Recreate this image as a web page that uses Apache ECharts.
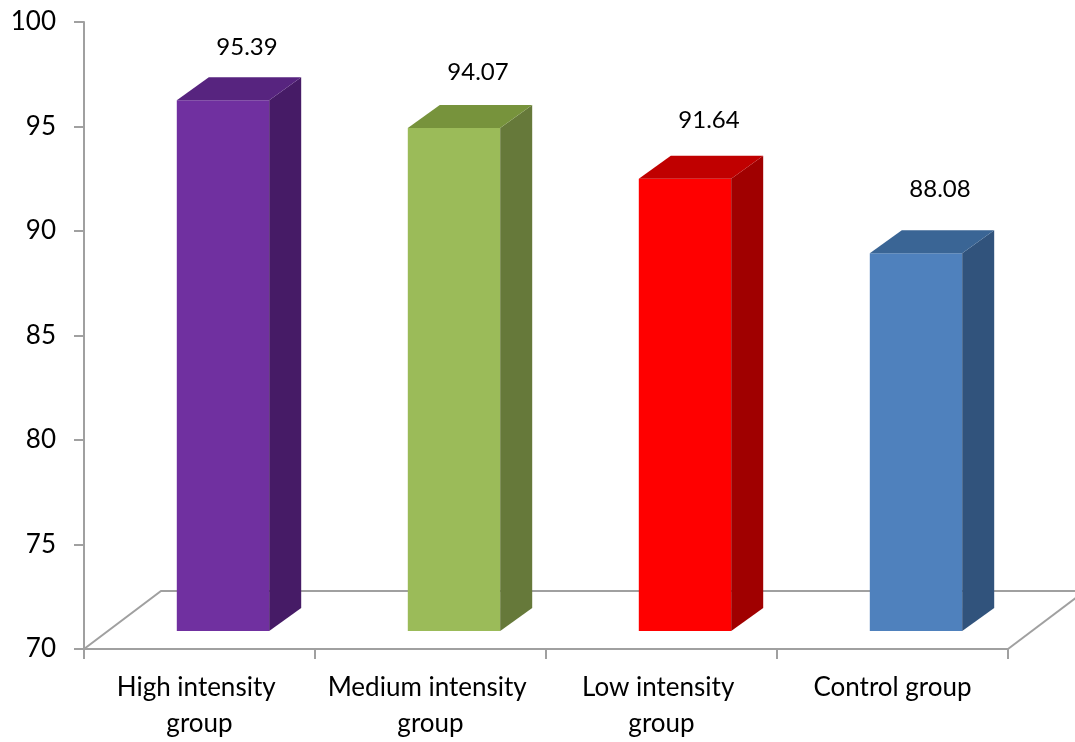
<!DOCTYPE html>
<html>
<head>
<meta charset="utf-8">
<script src="https://cdn.jsdelivr.net/npm/echarts@6/dist/echarts.min.js"></script>
<style>html,body{margin:0;padding:0;background:#fff}#c{width:1075px;height:742px}</style>
</head>
<body>
<div id="c"></div>
<script>
const categories = ['High intensity group', 'Medium intensity group', 'Low intensity group', 'Control group'];
const values = [95.39, 94.07, 91.64, 88.08];
const frontColors = ['#7030A0', '#9BBB59', '#FF0000', '#4F81BD'];
const topColors = ['#57247F', '#77933C', '#C00000', '#3A6595'];
const sideColors = ['#461B66', '#66793A', '#A00000', '#31537C'];
const yMin = 70, yMax = 100, yStep = 5;

const FLOOR_DX = 77, FLOOR_DY = -58;
const FRONT_DX = 23.5, FRONT_DY = -18;
const SIDE_DX = 32, SIDE_DY = -23;
const LABEL_DX = 24;
const FONT = 'Lato';

const chart = echarts.init(document.getElementById('c'));

function renderFloor(params, api) {
  const band = api.size([1, 0])[0];
  const c0 = api.coord([0, yMin]);
  const c3 = api.coord([categories.length - 1, yMin]);
  const x0 = c0[0] - band / 2, x1 = c3[0] + band / 2, y = c0[1];
  const st = { stroke: '#A0A0A0', lineWidth: 2, fill: null };
  return {
    type: 'group',
    children: [
      { type: 'polyline', shape: { points: [[x0, y], [x0 + FLOOR_DX, y + FLOOR_DY], [x1 + FLOOR_DX, y + FLOOR_DY]] }, style: st },
      { type: 'line', shape: { x1: x1, y1: y, x2: x1 + FLOOR_DX, y2: y + FLOOR_DY }, style: st }
    ]
  };
}

function renderBar(params, api) {
  const i = api.value(0), v = api.value(1);
  const top = api.coord([i, v]);
  const base = api.coord([i, yMin]);
  const bw = api.size([1, 0])[0] * 0.4;
  const l = top[0] + FRONT_DX - bw / 2, r = l + bw;
  const t = top[1] + FRONT_DY, b = base[1] + FRONT_DY;
  const h = base[1] - top[1];
  const labelY = base[1] + FRONT_DY - h * 0.931 - 90;
  return {
    type: 'group',
    children: [
      { type: 'rect', shape: { x: l, y: t, width: bw, height: b - t }, style: { fill: frontColors[i] } },
      { type: 'polygon', shape: { points: [[r, t], [r + SIDE_DX, t + SIDE_DY], [r + SIDE_DX, b + SIDE_DY], [r, b]] }, style: { fill: sideColors[i] } },
      { type: 'polygon', shape: { points: [[l, t], [l + SIDE_DX, t + SIDE_DY], [r + SIDE_DX, t + SIDE_DY], [r, t]] }, style: { fill: topColors[i] } },
      { type: 'text', x: top[0] + FRONT_DX + LABEL_DX, y: labelY, style: { text: v.toFixed(2), fill: '#000', font: '24px ' + FONT, align: 'center', verticalAlign: 'middle' } }
    ]
  };
}

chart.setOption({
  animation: false,
  grid: { left: 84, right: 67, top: 22, bottom: 90, containLabel: false },
  xAxis: {
    type: 'category',
    data: categories,
    axisLine: { lineStyle: { color: '#A0A0A0', width: 2 } },
    axisTick: { show: true, length: 10, lineStyle: { color: '#A0A0A0', width: 2 } },
    axisLabel: { color: '#000', fontFamily: FONT, fontSize: 26, lineHeight: 36, margin: 21, width: 225, overflow: 'break', interval: 0 }
  },
  yAxis: {
    type: 'value', min: yMin, max: yMax, interval: yStep,
    axisLine: { show: true, lineStyle: { color: '#A0A0A0', width: 2 } },
    axisTick: { show: true, length: 10, lineStyle: { color: '#A0A0A0', width: 2 } },
    splitLine: { show: false },
    axisLabel: { color: '#000', fontFamily: FONT, fontSize: 26, margin: 28 }
  },
  series: [
    { type: 'custom', data: [[0, yMin]], renderItem: renderFloor, clip: false, silent: true, z: 1 },
    { type: 'custom', data: values.map((v, i) => [i, v]), encode: { x: 0, y: 1 }, renderItem: renderBar, clip: false, z: 3 }
  ]
});
</script>
</body>
</html>
